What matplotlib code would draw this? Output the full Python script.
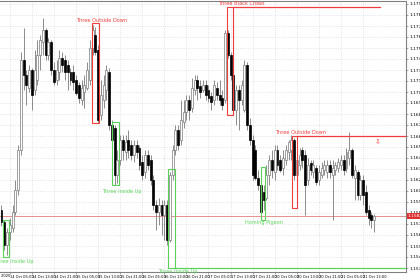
import matplotlib
matplotlib.use('Agg')
import matplotlib.pyplot as plt
from matplotlib.patches import Rectangle

# hourly quotes, in points above 1.1000 (so 590 -> 1.1590)
opens_pts = [590, 578, 555, 568, 572, 588, 610, 650, 740, 725,
             712, 730, 710, 720, 745, 758, 770, 745, 758, 730,
             720, 728, 742, 740, 735, 728, 728, 720, 715, 700,
             708, 712, 720, 752, 765, 750, 685, 700, 710, 728,
             675, 672, 625, 640, 660, 648, 660, 655, 645, 655,
             652, 638, 628, 645, 640, 620, 595, 588, 595, 585,
             595, 560, 625, 650, 670, 660, 678, 688, 700, 692,
             710, 720, 714, 710, 715, 710, 704, 700, 712, 705,
             702, 700, 767, 745, 725, 690, 710, 700, 690, 735,
             675, 660, 650, 622, 615, 608, 602, 625, 640, 628,
             650, 640, 632, 640, 648, 650, 660, 625, 635, 650,
             645, 620, 637, 628, 632, 620, 625, 630, 628, 635,
             625, 630, 632, 635, 640, 632, 642, 650, 622, 628,
             605, 620, 608, 590, 585, 580]
highs_pts = [595, 580, 572, 582, 595, 620, 655, 748, 772, 730,
             735, 732, 750, 760, 765, 782, 772, 762, 760, 738,
             740, 750, 748, 745, 740, 732, 735, 725, 718, 720,
             725, 738, 760, 775, 773, 755, 720, 725, 735, 732,
             680, 675, 650, 665, 665, 665, 670, 660, 660, 660,
             655, 645, 650, 650, 645, 625, 600, 602, 600, 600,
             600, 628, 655, 675, 675, 700, 700, 705, 705, 722,
             725, 725, 720, 720, 720, 715, 708, 720, 718, 720,
             710, 770, 770, 748, 728, 715, 715, 720, 740, 738,
             682, 665, 655, 630, 625, 615, 635, 645, 650, 655,
             655, 645, 650, 655, 660, 665, 662, 650, 652, 653,
             650, 642, 640, 640, 635, 635, 638, 640, 640, 640,
             640, 638, 642, 645, 645, 652, 668, 652, 635, 630,
             625, 625, 615, 595, 588, 586]
lows_pts = [574, 550, 545, 560, 568, 585, 605, 645, 710, 695,
            708, 690, 705, 715, 730, 745, 740, 740, 725, 715,
            715, 720, 728, 720, 710, 715, 710, 705, 697, 695,
            692, 710, 715, 745, 745, 677, 680, 692, 700, 670,
            655, 615, 617, 635, 640, 640, 642, 640, 638, 642,
            630, 620, 622, 630, 615, 590, 570, 575, 565, 560,
            555, 558, 620, 645, 650, 655, 672, 680, 680, 688,
            705, 700, 702, 708, 700, 698, 690, 695, 700, 695,
            690, 697, 742, 720, 685, 675, 670, 695, 688, 670,
            655, 620, 620, 610, 582, 590, 600, 615, 622, 620,
            630, 628, 625, 635, 640, 640, 620, 620, 630, 632,
            585, 615, 625, 622, 615, 615, 622, 625, 622, 622,
            580, 625, 628, 630, 625, 628, 635, 622, 600, 600,
            600, 595, 585, 575, 572, 568]
closes_pts = [578, 555, 568, 575, 588, 610, 650, 740, 725, 715,
              730, 705, 730, 745, 760, 770, 745, 758, 730, 718,
              730, 742, 735, 728, 728, 720, 718, 707, 702, 712,
              715, 730, 752, 770, 748, 680, 705, 715, 730, 675,
              660, 625, 640, 660, 650, 658, 650, 645, 655, 648,
              635, 625, 645, 635, 620, 595, 588, 595, 585, 595,
              560, 625, 650, 670, 655, 680, 688, 700, 690, 712,
              720, 712, 708, 715, 705, 702, 698, 715, 705, 700,
              695, 767, 745, 725, 690, 710, 700, 715, 735, 675,
              660, 625, 622, 615, 588, 600, 625, 640, 630, 650,
              635, 630, 642, 650, 658, 660, 625, 640, 645, 640,
              615, 635, 630, 635, 618, 628, 632, 635, 635, 628,
              632, 635, 638, 640, 630, 648, 650, 625, 630, 605,
              620, 605, 588, 582, 580, 584]

opens = [1.1 + p / 10000 for p in opens_pts]
highs = [1.1 + p / 10000 for p in highs_pts]
lows = [1.1 + p / 10000 for p in lows_pts]
closes = [1.1 + p / 10000 for p in closes_pts]

time_labels = ['14 Oct 05:00', '14 Oct 13:00', '14 Oct 21:00', '15 Oct 05:00',
               '15 Oct 13:00', '15 Oct 21:00', '16 Oct 05:00', '16 Oct 13:00',
               '16 Oct 21:00', '17 Oct 05:00', '17 Oct 13:00', '17 Oct 21:00',
               '20 Oct 05:00', '20 Oct 13:00', '20 Oct 21:00', '21 Oct 05:00',
               '21 Oct 13:00']
first_label_bar = 3

# candle patterns: name, first bar, last bar, top, bottom (points), label bar, label level
pat_names = ['Three Inside Up', 'Three Outside Down', 'Three Inside Up',
             'Three Inside Up', 'Three Black Crows', 'Homing Pigeon',
             'Three Outside Down']
pat_left = [0.54, 32.8, 40.0, 60.3, 81.7, 94.0, 105.3]
pat_right = [2.72, 35.3, 42.6, 62.9, 83.9, 95.5, 107.1]
pat_top = [580, 777, 678, 631, 793, 633, 664]
pat_bottom = [543, 677, 615, 532, 685, 580, 592]
pat_label_x = [4.35, 36.4, 43.7, 64.0, 86.8, 95.1, 108.5]
pat_label_y = [538, 780, 609, 529, 796, 577, 668]
pat_bull = [True, False, True, True, False, True, False]
pat_line_to = [None, None, None, 'edge', 137.1, None, 'edge']

RED = '#f03c3c'
GREEN = '#5ad25a'

fig = plt.figure(figsize=(4.2, 2.8), dpi=100)
ax = fig.add_axes([0, 8 / 280, 406 / 420, 271 / 280])
x_right = 146.56
ax.set_xlim(-0.543, x_right)
ax.set_ylim(1.1 + 528 / 10000, 1.1 + 799 / 10000)

# candles
for i in range(len(opens)):
    o, h, l, c = opens[i], highs[i], lows[i], closes[i]
    ax.vlines(i, l, h, color='#7a7a7a', lw=0.6, zorder=2)
    bottom = min(o, c)
    height = max(abs(c - o), 0.00008)
    if c >= o:
        ax.bar(i, height, 0.72, bottom, facecolor='white', edgecolor='#7a7a7a', lw=0.5, zorder=3)
    else:
        ax.bar(i, height, 0.72, bottom, facecolor='black', edgecolor='black', lw=0.5, zorder=3)

# patterns
for k in range(len(pat_names)):
    col = GREEN if pat_bull[k] else RED
    top = 1.1 + pat_top[k] / 10000
    bot = 1.1 + pat_bottom[k] / 10000
    ax.add_patch(Rectangle((pat_left[k], bot), pat_right[k] - pat_left[k], top - bot,
                           fill=False, edgecolor=col, lw=0.8, zorder=4))
    if pat_line_to[k] is not None:
        end = x_right if pat_line_to[k] == 'edge' else pat_line_to[k]
        lvl = bot if pat_bull[k] else top
        ax.plot([pat_right[k], end], [lvl, lvl], color=col, lw=0.9, zorder=4)
    ax.text(pat_label_x[k], 1.1 + pat_label_y[k] / 10000, pat_names[k], color=col,
            fontsize=3.6, ha='center', va='center', zorder=5)

ax.text(136.4, 1.1 + 658 / 10000, '⇩', color=RED, fontsize=5, ha='center', va='center')

# bid line
bid = closes[-1]
ax.axhline(bid, color='#e89090', lw=0.7, zorder=1)
ax.text(1.003, bid, f'{bid:.5f}', transform=ax.get_yaxis_transform(), fontsize=3.2,
        color='white', va='center', ha='left',
        bbox=dict(boxstyle='square,pad=0.15', facecolor='#e03030', edgecolor='none'))

# axes
yt = [1.1 + (796 - 11 * k) / 10000 for k in range(25)]
ax.set_yticks(yt)
ax.set_yticklabels([f'{v:.5f}' for v in yt])
ax.yaxis.tick_right()
xt = [first_label_bar + 8 * k for k in range(len(time_labels))]
ax.set_xticks(xt)
ax.set_xticklabels(time_labels, ha='left')
ax.text(first_label_bar - 8, -0.008, '13 Oct 2025', transform=ax.get_xaxis_transform(),
        fontsize=2.6, ha='left', va='top', clip_on=False)
ax.tick_params(axis='x', labelsize=2.6, length=1.5, width=0.5, color='#808080', pad=0.8)
ax.tick_params(axis='y', labelsize=3.2, length=1.5, width=0.5, color='#808080', pad=1)
ax.grid(color='#cfcfcf', linestyle=(0, (1, 2)), lw=0.5)
ax.set_axisbelow(True)
for s in ['top', 'right', 'bottom']:
    ax.spines[s].set_color('#808080')
    ax.spines[s].set_linewidth(0.8)
ax.spines['left'].set_visible(False)

fig.savefig('out.png', dpi=100)
